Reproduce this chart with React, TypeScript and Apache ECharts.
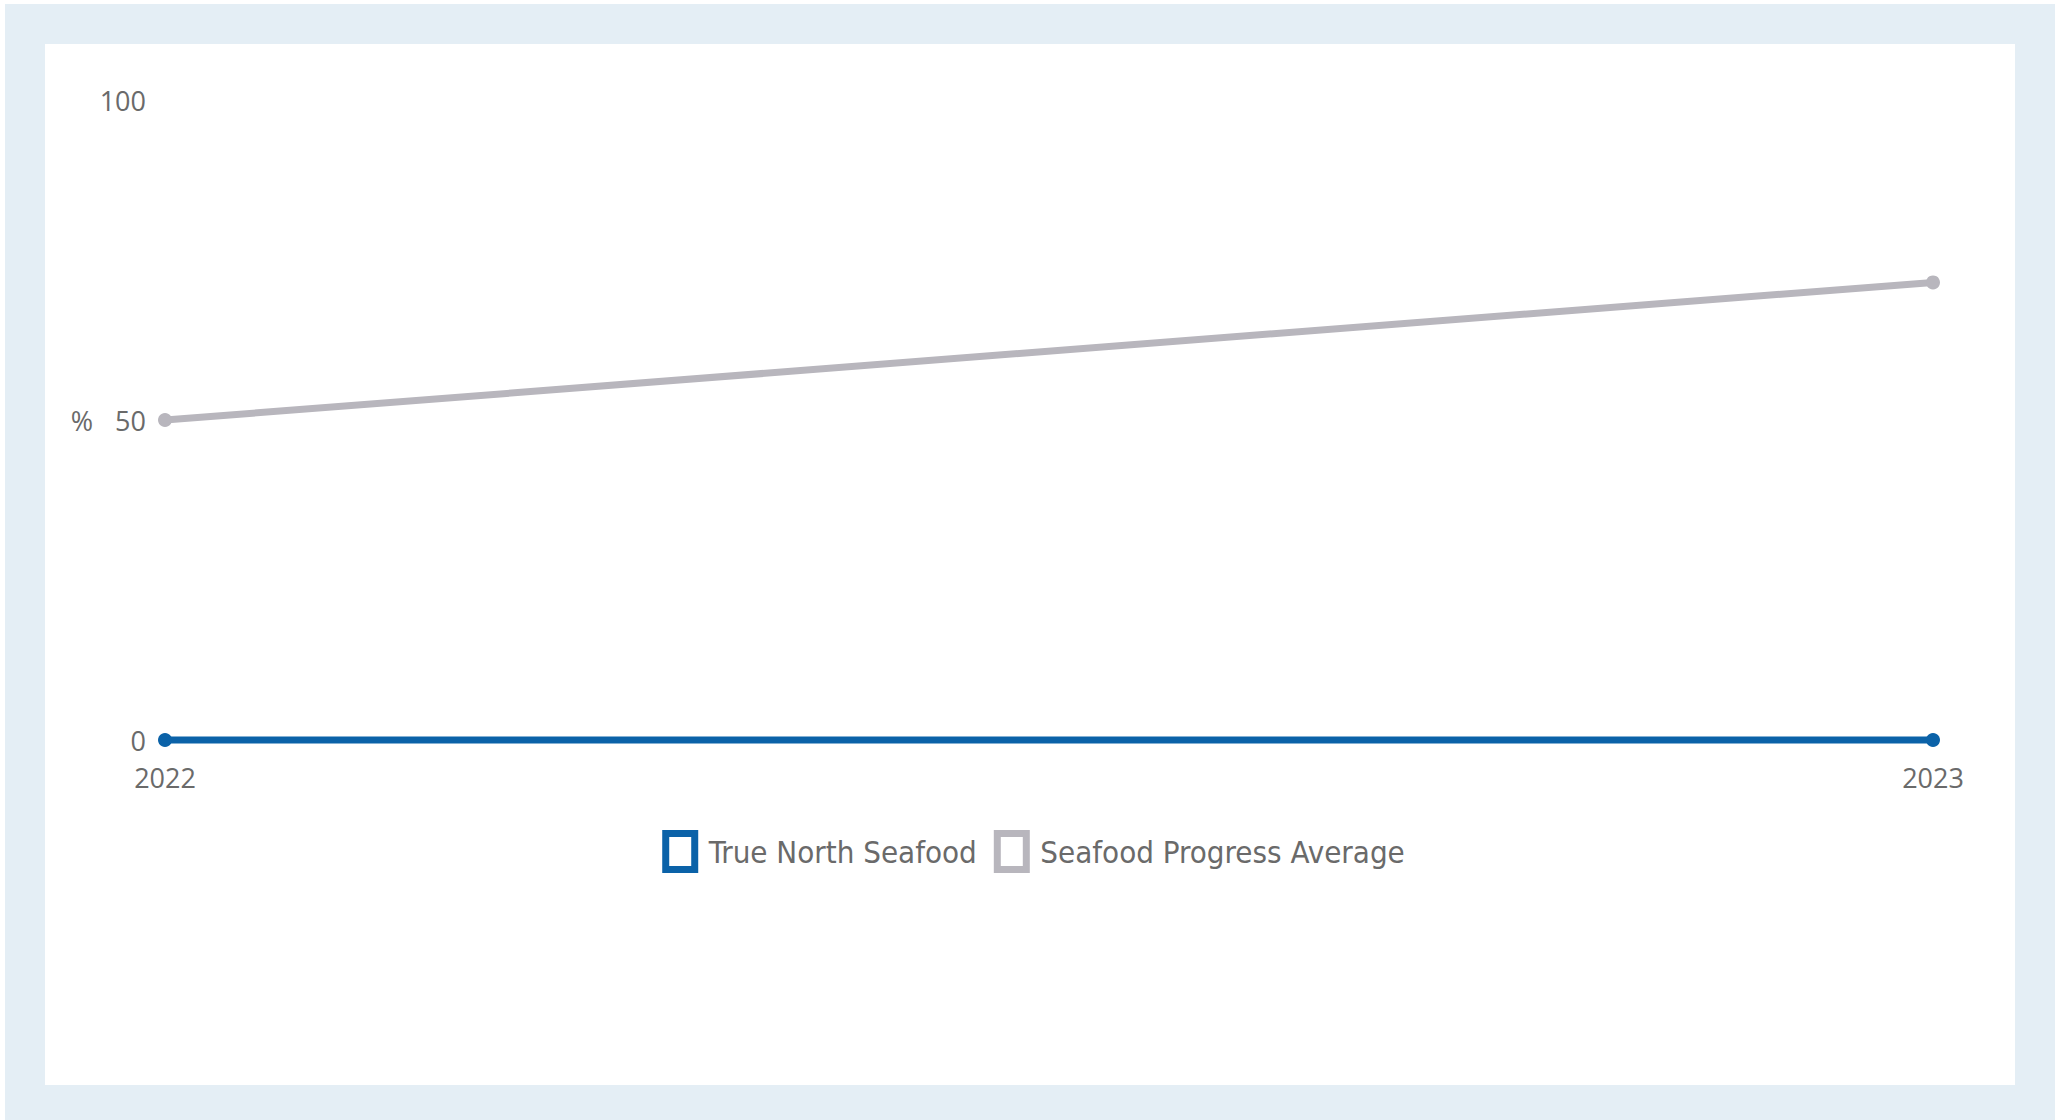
import React, { useEffect, useRef } from "react";
import * as echarts from "echarts";

const years = ["2022", "2023"];
const trueNorthSeafood = [0, 0];
const seafoodProgressAverage = [50, 71.5];
const seriesNames = ["True North Seafood", "Seafood Progress Average"];

const BLUE = "#0b62a8";
const GREY = "#b8b6bd";
const FRAME = "#e4eef5";
const TEXT = "#6a6a6a";
const NUM_FONT = "'Open Sans', 'Liberation Sans', sans-serif";
const LEGEND_FONT = "'Liberation Sans Narrow', 'DejaVu Sans Condensed', 'Roboto', sans-serif";

export default function App() {
  const ref = useRef<HTMLDivElement>(null);

  useEffect(() => {
    if (!ref.current) return;
    const chart = echarts.init(ref.current, undefined, { renderer: "svg" });
    chart.setOption({
      animation: false,
      backgroundColor: "#ffffff",
      graphic: [
        { type: "rect", z: -10, silent: true, shape: { x: 5, y: 4, width: 2050, height: 1116 }, style: { fill: FRAME } },
        { type: "rect", z: -9, silent: true, shape: { x: 45, y: 44, width: 1970, height: 1041 }, style: { fill: "#ffffff" } },
      ],
      grid: { left: 165, right: 134, top: 100, bottom: 380, containLabel: false },
      legend: {
        top: 830,
        left: "center",
        padding: 0,
        itemGap: 17,
        itemWidth: 29,
        itemHeight: 36,
        textStyle: { fontFamily: LEGEND_FONT, fontSize: 31, color: TEXT, padding: [0, 0, 0, 9] },
        data: [
          { name: seriesNames[0], icon: "rect", itemStyle: { color: "#ffffff", borderColor: BLUE, borderWidth: 7 } },
          { name: seriesNames[1], icon: "rect", itemStyle: { color: "#ffffff", borderColor: GREY, borderWidth: 7 } },
        ],
      },
      xAxis: {
        type: "category",
        data: years,
        boundaryGap: false,
        axisLine: { show: false },
        axisTick: { show: false },
        axisLabel: { margin: 24, fontFamily: NUM_FONT, fontSize: 27, color: TEXT },
        splitLine: { show: false },
      },
      yAxis: {
        type: "value",
        min: 0,
        max: 100,
        interval: 50,
        name: "%",
        nameLocation: "middle",
        nameRotate: 0,
        nameGap: 72,
        nameTextStyle: { fontFamily: NUM_FONT, fontSize: 27, color: TEXT },
        axisLine: { show: false },
        axisTick: { show: false },
        splitLine: { show: false },
        axisLabel: { margin: 19, fontFamily: NUM_FONT, fontSize: 27, color: TEXT },
      },
      series: [
        {
          name: seriesNames[1],
          type: "line",
          data: seafoodProgressAverage,
          symbol: "circle",
          symbolSize: 14,
          clip: false,
          lineStyle: { color: GREY, width: 7 },
          itemStyle: { color: GREY },
        },
        {
          name: seriesNames[0],
          type: "line",
          data: trueNorthSeafood,
          symbol: "circle",
          symbolSize: 14,
          clip: false,
          lineStyle: { color: BLUE, width: 7 },
          itemStyle: { color: BLUE },
        },
      ],
    });
    return () => chart.dispose();
  }, []);

  return (
    <div
      ref={ref}
      style={{ position: "absolute", left: 0, top: 0, width: 2067, height: 1120 }}
    />
  );
}
